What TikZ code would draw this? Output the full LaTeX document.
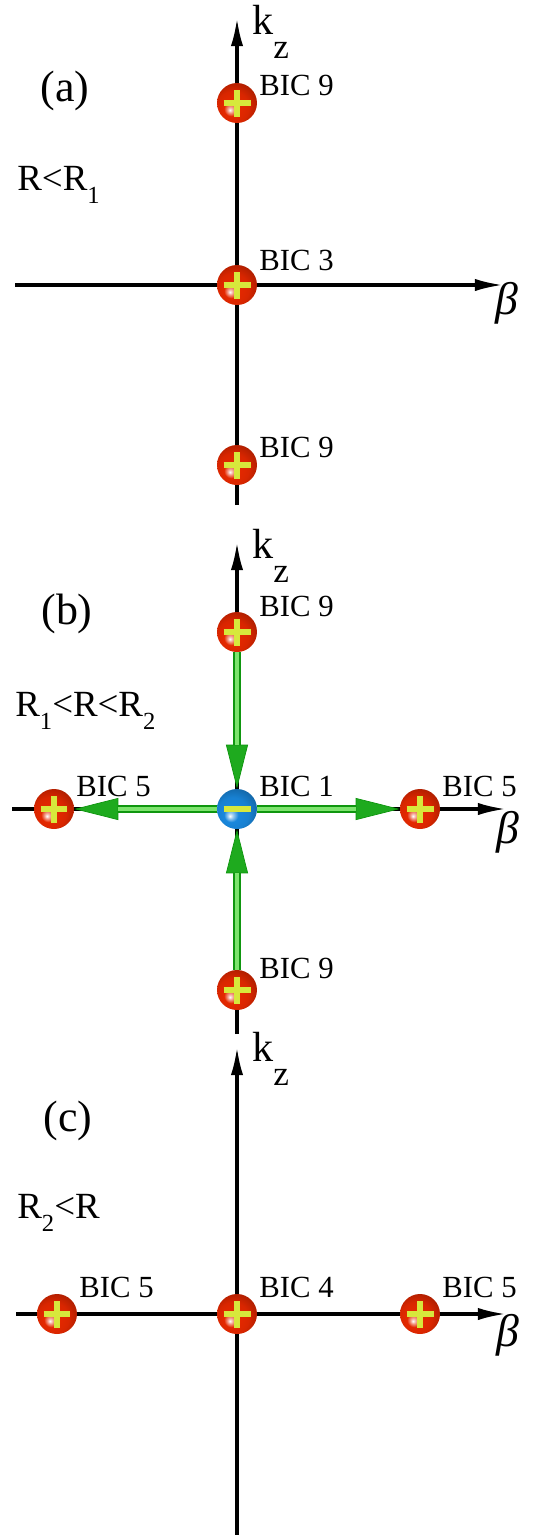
\documentclass[tikz,border=0pt]{standalone}
\usepackage{fontspec}
\setmainfont{Liberation Serif}
\usetikzlibrary{arrows.meta}

\definecolor{ballred}{RGB}{228,40,0}
\definecolor{ballblue}{RGB}{25,135,220}
\definecolor{signc}{RGB}{215,232,60}
\definecolor{gdark}{RGB}{15,150,15}
\definecolor{gtip}{RGB}{30,170,30}
\definecolor{glight}{RGB}{125,228,110}

% spheres lit from the lower left
\pgfdeclareradialshading{redsphere}{\pgfpoint{-9bp}{-9bp}}{%
  color(0bp)=(white); color(3.5bp)=(ballred!45!white); color(9bp)=(ballred);
  color(20bp)=(ballred!95!black); color(33bp)=(ballred!72!black); color(44bp)=(ballred!45!black); color(50bp)=(ballred!38!black)}
\pgfdeclareradialshading{bluesphere}{\pgfpoint{-9bp}{-9bp}}{%
  color(0bp)=(white); color(3.5bp)=(ballblue!45!white); color(9bp)=(ballblue);
  color(20bp)=(ballblue!95!black); color(33bp)=(ballblue!72!black); color(44bp)=(ballblue!42!black); color(50bp)=(ballblue!32!black)}

\newcommand{\lowsub}[1]{\raisebox{-7.5pt}{\fontsize{14}{14}\selectfont #1}}

\tikzset{
  axis/.style={line width=1.8pt, ->},
  bicball/.style={circle, minimum size=0.8cm, inner sep=0pt},
  posbic/.style={bicball, shading=redsphere,
    path picture={\draw[signc, line width=3pt]
      ([xshift=-0.27cm]path picture bounding box.center) -- ([xshift=0.27cm]path picture bounding box.center)
      ([yshift=-0.27cm]path picture bounding box.center) -- ([yshift=0.27cm]path picture bounding box.center);}},
  negbic/.style={bicball, shading=bluesphere,
    path picture={\draw[signc, line width=3pt]
      ([xshift=-0.27cm]path picture bounding box.center) -- ([xshift=0.27cm]path picture bounding box.center);}},
  flow/.style={line width=5pt, gdark, -{Triangle[length=25pt, width=12.5pt, line width=0.4pt, fill=gtip]}},
  flowshine/.style={line width=1.8pt, glight, shorten >=25pt},
  bic/.style={anchor=base west, inner sep=0pt, font=\fontsize{17.5}{20}\selectfont},
  panel/.style={inner sep=0pt, font=\fontsize{25}{27}\selectfont},
  cond/.style={anchor=base west, inner sep=0pt, font=\fontsize{21}{23}\selectfont},
  kz/.style={anchor=north west, inner sep=0pt, font=\fontsize{24}{26}\selectfont},
  betal/.style={anchor=north west, inner sep=0pt, font=\fontsize{26}{28}\selectfont\itshape}
}

\begin{document}
\begin{tikzpicture}[x=0.02cm, y=-0.02cm, >={Latex[length=16pt, width=7pt]}] % y runs downwards, as in the picture
  \useasboundingbox (0,0) rectangle (536,1535);

  % (a)
  \coordinate (abot) at (237,505);
  \coordinate (atop) at (237,18);
  \coordinate (aleft) at (15,285);
  \coordinate (aright) at (503,285);
  \draw[axis] (abot) -- (atop);
  \draw[axis] (aleft) -- (aright);
  \node[posbic] (a9u) at (237,103) {};
  \node[posbic] (a3) at (237,285) {};
  \node[posbic] (a9d) at (237,465) {};
  \node[bic] (la9u) at ([shift={(22,-8)}]a9u.center) {BIC 9};
  \node[bic] (la3) at ([shift={(22,-15)}]a3.center) {BIC 3};
  \node[bic] (la9d) at ([shift={(22,-8)}]a9d.center) {BIC 9};
  \node[panel] (pa) at (65,91) {(a)};
  \node[cond] (ra) at (17,190) {R<R\lowsub{1}};
  \node[kz] (ka) at ([shift={(15,-13)}]atop) {k\raisebox{-13.5pt}{\fontsize{20}{20}\selectfont z}};
  \node[betal] (ba) at ([shift={(-8,-3)}]aright) {β};

  % (b)
  \coordinate (bbot) at (237,1034);
  \coordinate (btop) at (237,542);
  \coordinate (bleft) at (12,809);
  \coordinate (bright) at (506,809);
  \draw[axis] (bbot) -- (btop);
  \draw[axis] (bleft) -- (bright);
  \node[posbic] (b9u) at (237,632) {};
  \node[negbic] (b1) at (237,809) {};
  \node[posbic] (b9d) at (237,990) {};
  \node[posbic] (b5l) at (54,809) {};
  \node[posbic] (b5r) at (420,809) {};
  \draw[flow] (b9u) -- (b1);
  \draw[flow] (b9d) -- (b1);
  \draw[flow] (b1) -- (b5r);
  \draw[flow] (b1) -- (b5l);
  \draw[flowshine] (b9u) -- (b1);
  \draw[flowshine] (b9d) -- (b1);
  \draw[flowshine] (b1) -- (b5r);
  \draw[flowshine] (b1) -- (b5l);
  \node[bic] (lb9u) at ([shift={(22,-16)}]b9u.center) {BIC 9};
  \node[bic] (lb5l) at ([shift={(22,-13)}]b5l.center) {BIC 5};
  \node[bic] (lb1) at ([shift={(22,-13)}]b1.center) {BIC 1};
  \node[bic] (lb5r) at ([shift={(22,-13)}]b5r.center) {BIC 5};
  \node[bic] (lb9d) at ([shift={(22,-12)}]b9d.center) {BIC 9};
  \node[panel] (pb) at (67,614) {(b)};
  \node[cond] (rb) at (15,716) {R\lowsub{1}<R<R\lowsub{2}};
  \node[kz] (kb) at ([shift={(15,-13)}]btop) {k\raisebox{-13.5pt}{\fontsize{20}{20}\selectfont z}};
  \node[betal] (bb) at ([shift={(-10,2)}]bright) {β};

  % (c)
  \coordinate (cbot) at (237,1535);
  \coordinate (ctop) at (237,1047);
  \coordinate (cleft) at (16,1314);
  \coordinate (cright) at (506,1314);
  \draw[axis] (cbot) -- (ctop);
  \draw[axis] (cleft) -- (cright);
  \node[posbic] (c5l) at (57,1314) {};
  \node[posbic] (c4) at (237,1314) {};
  \node[posbic] (c5r) at (420,1314) {};
  \node[bic] (lc5l) at ([shift={(22,-17)}]c5l.center) {BIC 5};
  \node[bic] (lc4) at ([shift={(22,-17)}]c4.center) {BIC 4};
  \node[bic] (lc5r) at ([shift={(22,-17)}]c5r.center) {BIC 5};
  \node[panel] (pc) at (68,1121) {(c)};
  \node[cond] (rc) at (17,1218) {R\lowsub{2}<R};
  \node[kz] (kc) at ([shift={(15,-15)}]ctop) {k\raisebox{-13.5pt}{\fontsize{20}{20}\selectfont z}};
  \node[betal] (bc) at ([shift={(-10,0)}]cright) {β};
\end{tikzpicture}
\end{document}
